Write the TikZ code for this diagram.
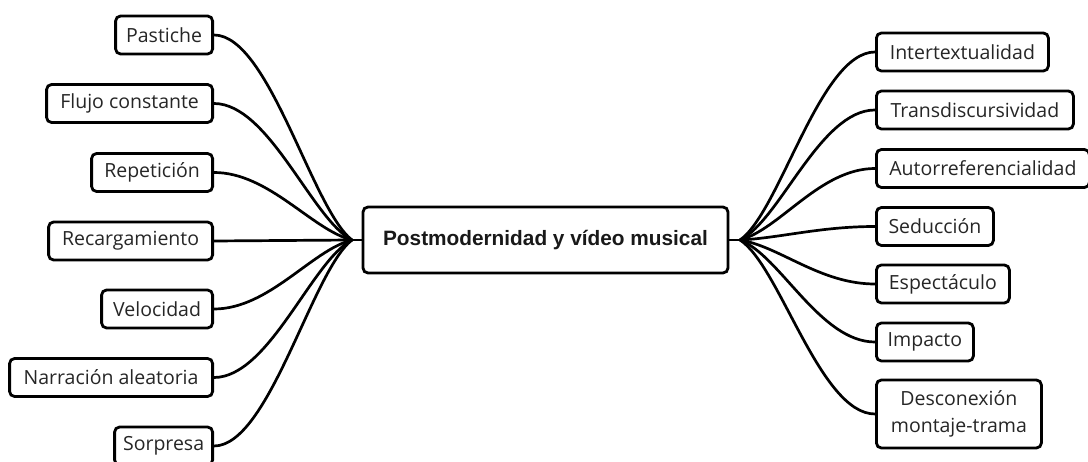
\documentclass[tikz,border=0pt]{standalone}
\usepackage{fontspec}
\setmainfont{Open Sans}
\newfontfamily\titlefont{Liberation Sans}
\usetikzlibrary{calc}
\tikzset{
  leaf/.style={draw=black, line width=2.8pt, rounded corners=5pt, fill=white,
    minimum height=38pt, inner sep=0pt, align=center,
    font=\fontsize{19.5}{24}\selectfont, text=black!85},
  root/.style={draw=black, line width=2.8pt, rounded corners=5pt, fill=white,
    minimum width=365pt, minimum height=66pt, inner sep=0pt,
    font=\titlefont\bfseries\fontsize{20.8}{24}\selectfont, text=black!90},
  conn/.style={draw=black, line width=2.7pt},
}
\begin{document}
\begin{tikzpicture}[x=1pt,y=-1pt]
\useasboundingbox (0,0) rectangle (1088,462);
% central
\node[root] (c) at (545.5,240) {Postmodernidad y v\'ideo musical};
\coordinate (L) at (352,240);
\coordinate (R) at (740,240);
% left
\node[leaf, anchor=east, minimum width=97pt]  (pa) at (214,35)    {Pastiche};
\node[leaf, anchor=east, minimum width=166pt] (fl) at (214,103.5) {Flujo constante};
\node[leaf, anchor=east, minimum width=121pt] (re) at (214,172.5) {Repetici\'on};
\node[leaf, anchor=east, minimum width=164pt] (rc) at (214,241)   {Recargamiento};
\node[leaf, anchor=east, minimum width=111pt] (ve) at (214,309)   {Velocidad};
\node[leaf, anchor=east, minimum width=203pt] (na) at (214,377.5) {Narraci\'on aleatoria};
\node[leaf, anchor=east, minimum width=98pt]  (so) at (214,446)   {Sorpresa};
% right
\node[leaf, anchor=west, minimum width=172pt] (it) at (875,52)    {Intertextualidad};
\node[leaf, anchor=west, minimum width=197pt] (tr) at (875,110)   {Transdiscursividad};
\node[leaf, anchor=west, minimum width=213pt] (au) at (875,168.5) {Autorreferencialidad};
\node[leaf, anchor=west, minimum width=117pt] (se) at (875,226.5) {Seducci\'on};
\node[leaf, anchor=west, minimum width=133pt] (es) at (875,284)   {Espect\'aculo};
\node[leaf, anchor=west, minimum width=97pt]  (im) at (875,342)   {Impacto};
\node[leaf, anchor=west, minimum width=165pt, minimum height=68pt, font=\fontsize{19.5}{27}\selectfont] (de) at (875,414) {Desconexi\'on\\montaje-trama};
% left connectors
\draw[conn] (pa.east) .. controls +(55,0) and ($(L)+(-40,-31)$) .. (L);
\draw[conn] (fl.east) .. controls +(55,0) and ($(L)+(-40,-20.5)$) .. (L);
\draw[conn] (re.east) .. controls +(55,0) and ($(L)+(-40,-10)$) .. (L);
\draw[conn] (rc.east) -- (L);
\draw[conn] (ve.east) .. controls +(55,0) and ($(L)+(-40,10)$) .. (L);
\draw[conn] (na.east) .. controls +(55,0) and ($(L)+(-40,20.5)$) .. (L);
\draw[conn] (so.east) .. controls +(55,0) and ($(L)+(-40,31)$) .. (L);
\draw[conn] (L) -- (c.west);
% right connectors
\draw[conn] (it.west) .. controls +(-55,0) and ($(R)+(40,-28)$) .. (R);
\draw[conn] (tr.west) .. controls +(-55,0) and ($(R)+(40,-19.5)$) .. (R);
\draw[conn] (au.west) .. controls +(-55,0) and ($(R)+(40,-10.7)$) .. (R);
\draw[conn] (se.west) .. controls +(-55,0) and ($(R)+(40,-2)$) .. (R);
\draw[conn] (es.west) .. controls +(-55,0) and ($(R)+(40,6.6)$) .. (R);
\draw[conn] (im.west) .. controls +(-55,0) and ($(R)+(40,15.3)$) .. (R);
\draw[conn] (de.west) .. controls +(-55,0) and ($(R)+(40,26)$) .. (R);
\draw[conn] (R) -- (c.east);
\end{tikzpicture}
\end{document}
